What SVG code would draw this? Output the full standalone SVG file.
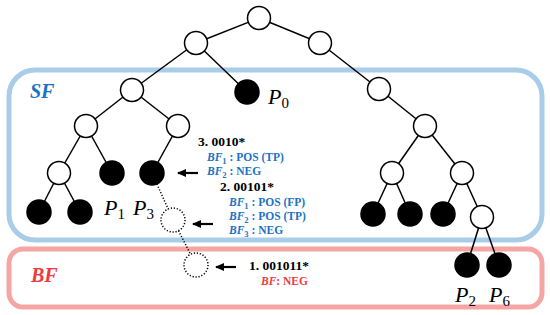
<svg xmlns="http://www.w3.org/2000/svg" width="550" height="315" viewBox="0 0 550 315">
<defs>
<marker id="ah" markerWidth="9" markerHeight="8" refX="8" refY="4" orient="auto" markerUnits="userSpaceOnUse">
<path d="M0,0 L9,4 L0,8 z" fill="#000"/>
</marker>
<style>
.e{stroke:#000;stroke-width:1.5;fill:none}
.d{stroke:#000;stroke-width:1.5;fill:none;stroke-dasharray:1.2 1.8}
.w{fill:#fff;stroke:#000;stroke-width:1.5}
.b{fill:#000;stroke:#000;stroke-width:1.5}
.dc{fill:#fff;stroke:#000;stroke-width:1.5;stroke-dasharray:1.2 1.8}
.t{font-family:"Liberation Serif",serif;font-weight:bold;font-size:13.5px;fill:#000}
.bl{font-family:"Liberation Serif",serif;font-weight:bold;font-size:11.5px;fill:#1a73c4}
.rd{font-family:"Liberation Serif",serif;font-weight:bold;font-size:11.5px;fill:#ee3b3b}
.p{font-family:"Liberation Serif",serif;font-style:italic;font-size:22px;fill:#000}
.sub{font-style:normal;font-size:15px}
.arr{stroke:#000;stroke-width:2.2;fill:none}
</style>
</defs>
<g id="sf-region">
<rect x="9" y="70" width="533" height="170" rx="26" ry="26" fill="none" stroke="#a9cce9" stroke-width="5"/>
<text x="30" y="98" font-family="Liberation Serif,serif" font-weight="bold" font-style="italic" font-size="20" fill="#1a73c4">SF</text>
</g>
<g id="bf-region">
<rect x="9" y="249" width="533" height="58" rx="14" ry="14" fill="none" stroke="#f6a5a5" stroke-width="5"/>
<text x="31" y="282" font-family="Liberation Serif,serif" font-weight="bold" font-style="italic" font-size="20" fill="#ee3b3b">BF</text>
</g>
<g id="connectors">
<line class="e" x1="259" y1="18" x2="196" y2="43"/>
<line class="e" x1="259" y1="18" x2="320" y2="43"/>
<line class="e" x1="196" y1="43" x2="132" y2="90"/>
<line class="e" x1="196" y1="43" x2="247" y2="92"/>
<line class="e" x1="132" y1="90" x2="86" y2="126"/>
<line class="e" x1="132" y1="90" x2="178" y2="126"/>
<line class="e" x1="86" y1="126" x2="59" y2="173"/>
<line class="e" x1="86" y1="126" x2="112" y2="173"/>
<line class="e" x1="178" y1="126" x2="152" y2="173"/>
<line class="e" x1="59" y1="173" x2="39" y2="212"/>
<line class="e" x1="59" y1="173" x2="80" y2="212"/>
<line class="e" x1="320" y1="43" x2="379" y2="89"/>
<line class="e" x1="379" y1="89" x2="425" y2="126"/>
<line class="e" x1="425" y1="126" x2="392" y2="173"/>
<line class="e" x1="425" y1="126" x2="462" y2="173"/>
<line class="e" x1="392" y1="173" x2="373" y2="214"/>
<line class="e" x1="392" y1="173" x2="410" y2="214"/>
<line class="e" x1="462" y1="173" x2="443" y2="214"/>
<line class="e" x1="462" y1="173" x2="482" y2="217"/>
<line class="e" x1="482" y1="217" x2="467" y2="265"/>
<line class="e" x1="482" y1="217" x2="499" y2="265"/>
<line class="d" x1="152" y1="173" x2="173" y2="220"/>
<line class="d" x1="173" y1="220" x2="196" y2="265"/>
<line class="arr" x1="198" y1="173" x2="178" y2="173" marker-end="url(#ah)"/>
<line class="arr" x1="213" y1="224" x2="193" y2="224" marker-end="url(#ah)"/>
<line class="arr" x1="236" y1="267" x2="216" y2="267" marker-end="url(#ah)"/>
</g>
<g id="n-root"><circle class="w" cx="259" cy="18" r="11.5"/></g>
<g id="n-a"><circle class="w" cx="196" cy="43" r="11.5"/></g>
<g id="n-r1"><circle class="w" cx="320" cy="43" r="11.5"/></g>
<g id="n-p0"><circle class="b" cx="247" cy="92" r="12"/><text class="p" x="268" y="104">P<tspan class="sub" dy="4">0</tspan></text></g>
<g id="n-b"><circle class="w" cx="132" cy="90" r="11.5"/></g>
<g id="n-c"><circle class="w" cx="86" cy="126" r="11.5"/></g>
<g id="n-d"><circle class="w" cx="178" cy="126" r="11.5"/></g>
<g id="n-e"><circle class="w" cx="59" cy="173" r="11.5"/></g>
<g id="n-l1"><circle class="b" cx="39" cy="212" r="12"/></g>
<g id="n-l2"><circle class="b" cx="80" cy="212" r="12"/></g>
<g id="n-p1"><circle class="b" cx="112" cy="173" r="12"/><text class="p" x="104" y="215">P<tspan class="sub" dy="4">1</tspan></text></g>
<g id="n-p3"><circle class="b" cx="152" cy="173" r="12"/><text class="p" x="133" y="215">P<tspan class="sub" dy="4">3</tspan></text></g>
<g id="n-q1"><circle class="dc" cx="173" cy="220" r="12"/></g>
<g id="n-q2"><circle class="dc" cx="196" cy="265" r="12"/></g>
<g id="n-r2"><circle class="w" cx="379" cy="89" r="11.5"/></g>
<g id="n-r3"><circle class="w" cx="425" cy="126" r="11.5"/></g>
<g id="n-r4"><circle class="w" cx="392" cy="173" r="11.5"/></g>
<g id="n-r5"><circle class="w" cx="462" cy="173" r="11.5"/></g>
<g id="n-l3"><circle class="b" cx="373" cy="214" r="12"/></g>
<g id="n-l4"><circle class="b" cx="410" cy="214" r="12"/></g>
<g id="n-l5"><circle class="b" cx="443" cy="214" r="12"/></g>
<g id="n-r6"><circle class="w" cx="482" cy="217" r="11.5"/></g>
<g id="n-p2"><circle class="b" cx="467" cy="265" r="12"/><text class="p" x="455" y="302">P<tspan class="sub" dy="4">2</tspan></text></g>
<g id="n-p6"><circle class="b" cx="499" cy="265" r="12"/><text class="p" x="489" y="302">P<tspan class="sub" dy="4">6</tspan></text></g>
<g id="labels">
<text class="t" x="198" y="146">3. 0010*</text>
<text class="bl" x="207" y="161"><tspan font-style="italic">BF</tspan><tspan font-size="8.5" dy="2.5">1</tspan><tspan dy="-2.5"> : POS (TP)</tspan></text>
<text class="bl" x="207" y="175"><tspan font-style="italic">BF</tspan><tspan font-size="8.5" dy="2.5">2</tspan><tspan dy="-2.5"> : NEG</tspan></text>
<text class="t" x="220" y="191">2. 00101*</text>
<text class="bl" x="229" y="206"><tspan font-style="italic">BF</tspan><tspan font-size="8.5" dy="2.5">1</tspan><tspan dy="-2.5"> : POS (FP)</tspan></text>
<text class="bl" x="229" y="220"><tspan font-style="italic">BF</tspan><tspan font-size="8.5" dy="2.5">2</tspan><tspan dy="-2.5"> : POS (TP)</tspan></text>
<text class="bl" x="229" y="234"><tspan font-style="italic">BF</tspan><tspan font-size="8.5" dy="2.5">3</tspan><tspan dy="-2.5"> : NEG</tspan></text>
<text class="t" x="249" y="270">1. 001011*</text>
<text class="rd" x="261" y="285"><tspan font-style="italic">BF</tspan>: NEG</text>
</g>
</svg>
